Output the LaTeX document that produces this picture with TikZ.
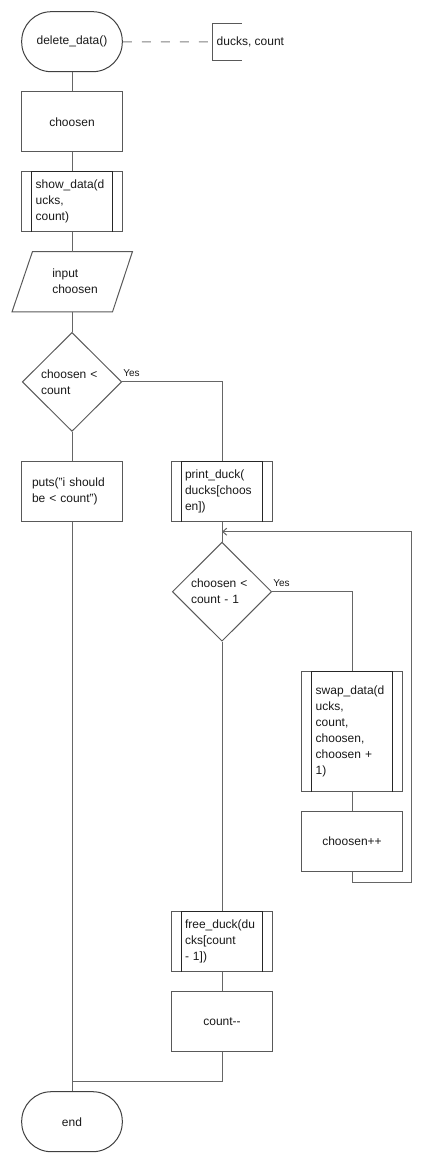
\documentclass[tikz,border=0pt]{standalone}
\usepackage{fontspec}
\setmainfont{Liberation Sans}
\usetikzlibrary{shapes.geometric,arrows.meta}

\tikzset{
    box/.style={draw=black!65, line width=1pt, minimum width=100.6pt, minimum height=60pt, inner sep=0pt},
    termbox/.style={box, draw=black!75, rounded corners=29.5pt},
    subproc/.style={box, text width=72.6pt, inner xsep=14pt, align=left},
    decision/.style={draw=black!65, line width=1pt, diamond, minimum width=99.4pt, minimum height=99pt, inner sep=0pt, text width=62pt, align=left},
    flow/.style={draw=black!60, line width=1pt},
    yeslabel/.style={font=\fontsize{10}{12}\selectfont, anchor=south west, inner sep=1pt},
}

\begin{document}
\begin{tikzpicture}[x=1pt, y=-1pt, font=\fontsize{12}{16}\selectfont, text=black!90]
    \useasboundingbox (0, 0) rectangle (424, 1164);

    %% left column
    \node[termbox] (start) at (72, 41.7){delete\_data()};
    \node[anchor=west, minimum height=36.3pt, inner xsep=4.5pt] (args) at (212, 41.9){ducks, count};
    \node[box] (choosen) at (72, 121.8){choosen};
    \node[subproc] (show) at (72, 201.7){show\_data(d\\ucks,\\count)};
    \node[minimum width=100.6pt, minimum height=60pt, inner sep=0pt, align=left] (input) at (72, 281.7){\hspace*{6pt}input\\\hspace*{6pt}choosen};
    \node[decision] (check) at (72, 381.9){choosen <\\count};
    \node[box, text width=80pt, inner xsep=9pt, align=left] (puts) at (72, 491.7){puts("i should\\be < count")};
    \node[termbox] (end) at (72, 1121.7){end};

    %% middle column
    \node[subproc, inner xsep=13.3pt, text width=74pt] (print) at (222, 491.7){print\_duck(\\ducks[choos\\en])};
    \node[decision] (loop) at (222, 591.7){choosen <\\count - 1};
    \node[subproc, inner xsep=13.3pt, text width=74pt] (free) at (222, 941.7){free\_duck(du\\cks[count\\- 1])};
    \node[box] (dec) at (222, 1021.7){count{-}{-}};

    %% right column
    \node[subproc, minimum height=120pt] (swap) at (352, 731.7){swap\_data(d\\ucks,\\count,\\choosen,\\choosen +\\1)};
    \node[box] (inc) at (352, 841.7){choosen++};

    %% subprocess bars
    \foreach \n in {show, print, swap, free}{
        \draw[black!85, line width=1pt] ([xshift=10pt]\n.north west) to ([xshift=10pt]\n.south west);
        \draw[black!85, line width=1pt] ([xshift=-10pt]\n.north east) to ([xshift=-10pt]\n.south east);
        \draw[black!85, line width=1pt] ([xshift=10pt]\n.north west) to ([xshift=-10pt]\n.north east);
    }

    %% input shape
    \draw[black!65, line width=1pt] ([xshift=11pt]input.north west) to ([xshift=10pt]input.north east)
        to ([xshift=-10pt]input.south east) to ([xshift=-9.5pt]input.south west) -- cycle;

    %% annotation
    \draw[black!65, line width=1pt] ([xshift=29.7pt]args.north west) to (args.north west)
        to (args.south west) to ([xshift=29.7pt]args.south west);
    \draw[black!50, line width=1pt, dash pattern=on 9pt off 10pt] (start) to (args);

    \coordinate (join) at ([yshift=10pt]loop.north);
    \coordinate (turn) at (411.7, 531.7);
    \coordinate (merge) at ([yshift=10pt]end.north);

    %% connectors
    \draw[flow] (start) to (choosen);
    \draw[flow] (choosen) to (show);
    \draw[flow] (show) to (input);
    \draw[flow] (input) to (check);
    \draw[flow] (check) to (puts);
    \draw[flow] (puts) to (end);

    \draw[flow] (check.east) -| (print.north);
        \node[yeslabel] at ([yshift=4pt]check.east){Yes};
    \draw[flow] (print) to (loop);
    \draw[flow] (loop.east) -| (swap.north);
        \node[yeslabel] at ([yshift=4pt]loop.east){Yes};
    \draw[flow] (swap) to (inc);
    \draw[flow, -{Straight Barb[length=4pt, width=7pt]}] (inc.south) to ([yshift=-10pt]inc.south) -| (turn) to (join);
    \draw[flow] (loop) to (free);
    \draw[flow] (free) to (dec);
    \draw[flow] (dec.south) |- (merge);

\end{tikzpicture}
\end{document}
